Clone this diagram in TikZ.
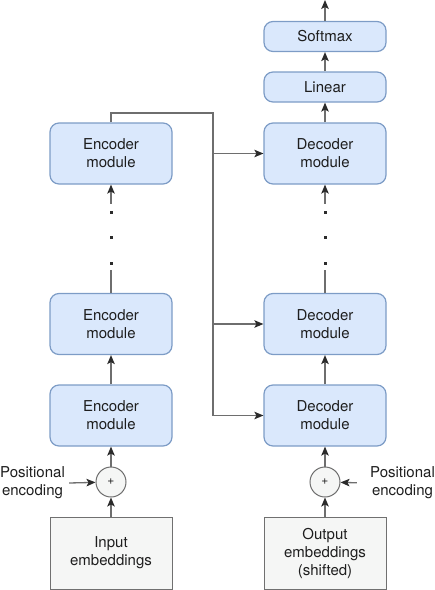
\documentclass[tikz,border=0pt]{standalone}
\usepackage{fontspec}
\setmainfont{TeX Gyre Heros}
\usetikzlibrary{
    arrows.meta,
    positioning,
    calc,
}
\definecolor{modfill}{HTML}{DAE8FC}
\definecolor{moddraw}{HTML}{7D9CC6}
\definecolor{embfill}{HTML}{F5F6F5}
\definecolor{embdraw}{HTML}{707070}
\definecolor{linec}{HTML}{6E6E6E}
\definecolor{tipc}{HTML}{2B2B2B}
\definecolor{textc}{HTML}{1E1E1E}

\begin{document}
\begin{tikzpicture}[
    x=1pt, y=-1pt,
    every node/.style={text=textc, font=\fontsize{15}{18}\selectfont},
    module/.style={draw=moddraw, fill=modfill, line width=1.2pt, rounded corners=9pt, minimum width=122pt, minimum height=61pt, align=center},
    head/.style={module, minimum height=30pt},
    embed/.style={draw=embdraw, fill=embfill, line width=1pt, minimum width=122pt, minimum height=72pt, align=center},
    adder/.style={draw=linec, fill=embfill, line width=1pt, circle, minimum size=30pt, inner sep=0pt, font=\fontsize{12}{12}\selectfont},
    label/.style={align=center, inner xsep=4pt},
    dotmark/.style={fill=tipc, minimum size=3pt, inner sep=0pt},
    link/.style={draw=linec, line width=1.3pt},
    arrow/.style={link, -{Stealth[length=9pt, width=7.5pt, inset=2pt, color=tipc]}},
]
\useasboundingbox (0,0) rectangle (435,590);

% encoder stack
\node[module] (enc1) at (111,415.5) {Encoder\\module};
\node[module] (enc2) at (111,324) {Encoder\\module};
\node[module] (enc3) at (111,153.5) {Encoder\\module};

% decoder stack
\node[module] (dec1) at (325,415.5) {Decoder\\module};
\node[module] (dec2) at (325,324) {Decoder\\module};
\node[module] (dec3) at (325,153.5) {Decoder\\module};
\node[head] (linear) at (325,87) {Linear};
\node[head] (softmax) at (325,36.5) {Softmax};
\coordinate (out) at (325,0);

% inputs
\node[embed] (inemb) at (111,553) {Input\\embeddings};
\node[embed] (outemb) at (325,553) {Output\\embeddings\\(shifted)};
\node[adder] (addL) at (111,482) {+};
\node[adder] (addR) at (325,482) {+};
\node[label] (posL) at (32.5,483) {Positional\\encoding};
\node[label] (posR) at (402.5,483) {Positional\\encoding};

\draw[arrow] (inemb) -- (addL);
\draw[arrow] (outemb) -- (addR);
\draw[arrow] (posL.east) -- (addL);
\draw[arrow, shorten <=9pt] (posR.west) -- (addR);
\draw[arrow] (addL) -- (enc1);
\draw[arrow] (addR) -- (dec1);
\draw[arrow] (enc1) -- (enc2);
\draw[arrow] (dec1) -- (dec2);

% skipped layers
\foreach \col/\lo/\hi in {111/enc2/enc3, 325/dec2/dec3} {
    \draw[link] (\lo.north) -- ++(0,-23);
    \foreach \y [count=\i] in {263.3,237.7,212.3}
        \node[dotmark] (\lo-dot\i) at (\col,\y) {};
    \draw[arrow] ($(\hi.south)+(0,19)$) -- (\hi.south);
}

\draw[arrow] (dec3) -- (linear);
\draw[arrow] (linear) -- (softmax);
\draw[arrow] (softmax) -- (out);

% encoder output to every decoder
\coordinate (bus) at (213,113);
\draw[link] (enc3.north) |- (bus) -- (bus |- dec1.west);
\foreach \d in {dec1, dec2, dec3}
    \draw[arrow] (bus |- \d.west) -- (\d.west);

\end{tikzpicture}
\end{document}
